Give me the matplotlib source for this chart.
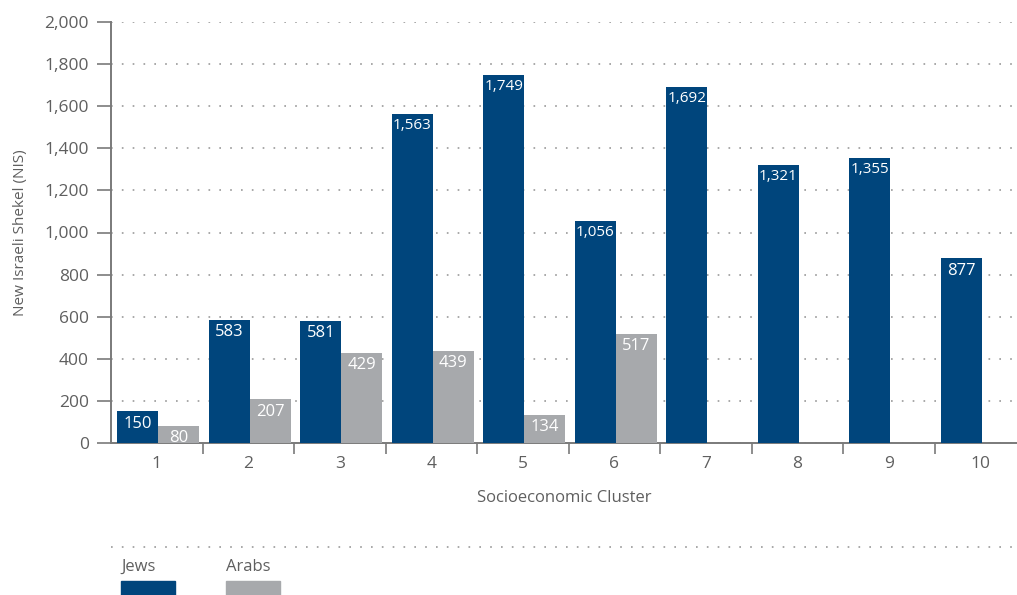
import numpy as np
import matplotlib.pyplot as plt
from matplotlib.patches import Rectangle
from matplotlib.lines import Line2D

# Average spending per socioeconomic cluster (NIS)
clusters = ["1", "2", "3", "4", "5", "6", "7", "8", "9", "10"]
jews = [150, 583, 581, 1563, 1749, 1056, 1692, 1321, 1355, 877]
arabs = [80, 207, 429, 439, 134, 517, np.nan, np.nan, np.nan, np.nan]

series_names = ["Jews", "Arabs"]
colors = ["#00457c", "#a7a9ac"]
text_color = "#5f5f5f"

plt.rcParams['font.family'] = ['Open Sans', 'DejaVu Sans']

fig = plt.figure(figsize=(10.17, 5.95), dpi=100)
ax = fig.add_axes([111 / 1017, 1 - 443 / 595, 906 / 1017, 421 / 595])

x = np.arange(len(clusters))
width = 0.448
shift = 0.016  # pairs sit a touch right of the cluster centre

bars_j = ax.bar(x - width / 2 + shift, jews, width=width, color=colors[0], zorder=3)
bars_a = ax.bar(x + width / 2 + shift, arabs, width=width, color=colors[1], zorder=3)

# White value labels just inside the top of each bar
for bars, vals in [(bars_j, jews), (bars_a, arabs)]:
    for bar, v in zip(bars, vals):
        if np.isnan(v):
            continue
        label = f"{v:,.0f}"
        size = 11 if v >= 1000 else 12
        ax.annotate(label, (bar.get_x() + bar.get_width() / 2, v),
                    xytext=(0, -3), textcoords="offset points",
                    ha="center", va="top", color="white", fontsize=size,
                    zorder=4)

ax.set_xlim(-0.5, 9.4)
ax.set_ylim(0, 2000)
ax.set_yticks(range(0, 2001, 200))
ax.set_yticklabels([f"{t:,}" for t in range(0, 2001, 200)])
ax.set_xticks(x)
ax.set_xticklabels(clusters)
ax.set_xticks(np.arange(0.5, 9.0, 1.0), minor=True)

ax.grid(axis="y", color="#999999", linestyle=(0, (1, 5.5)), linewidth=1.2, zorder=0)
ax.set_axisbelow(True)

for side in ["top", "right"]:
    ax.spines[side].set_visible(False)
for side in ["left", "bottom"]:
    ax.spines[side].set_color("#7a7a7a")
    ax.spines[side].set_linewidth(1.4)

ax.tick_params(axis="y", length=10, width=1.2, color="#7a7a7a", labelcolor=text_color,
               labelsize=12.5, pad=6)
ax.tick_params(axis="x", which="major", length=0, labelcolor=text_color, labelsize=12.5, pad=9)
ax.tick_params(axis="x", which="minor", length=8, width=1.2, color="#7a7a7a")

ax.set_xlabel("Socioeconomic Cluster", color=text_color, fontsize=12, labelpad=13)
ax.set_ylabel("New Israeli Shekel (NIS)", color=text_color, fontsize=11, labelpad=12)

# Legend below the chart: dotted rule, names, and colour swatches
fig.add_artist(Line2D([111 / 1017, 1015 / 1017], [1 - 547 / 595] * 2,
                      color="#999999", linestyle=(0, (1, 5.5)), linewidth=1.2))
for name, color, left in zip(series_names, colors, [121, 226]):
    fig.text(left / 1017, 1 - 567 / 595, name, color=text_color, fontsize=12,
             ha="left", va="center")
    fig.add_artist(Rectangle((left / 1017, 0), 54 / 1017, 14 / 595,
                             transform=fig.transFigure, color=color))

fig.savefig("out.png", dpi=100)
